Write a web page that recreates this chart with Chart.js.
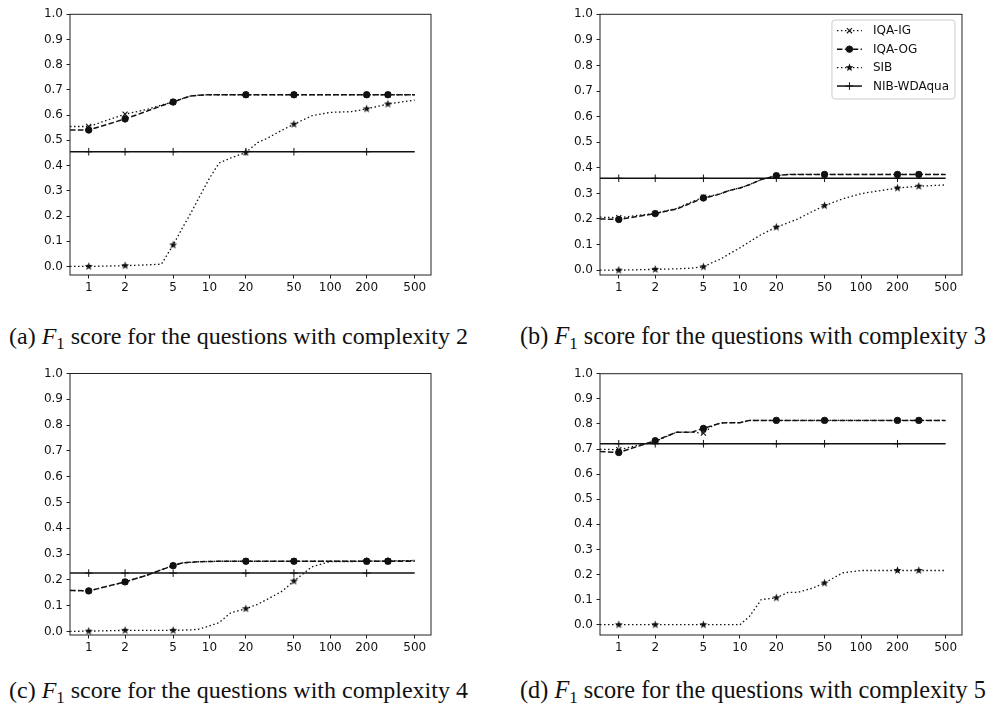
<!DOCTYPE html>
<html>
<head>
<meta charset="utf-8">
<script src="https://cdn.jsdelivr.net/npm/chart.js@4.4.1/dist/chart.umd.min.js"></script>
<style>
  html, body { margin: 0; padding: 0; background: #fff; }
  body { width: 1001px; height: 713px; position: relative; overflow: hidden; }
  .panel { position: absolute; width: 450px; height: 300px; }
  .caption {
    position: absolute; white-space: nowrap; line-height: 1;
    font-family: "Liberation Serif", "Times New Roman", serif; font-size: 24px; color: #111;
  }
  .caption.right { font-size: 24.3px; }
  .caption sub { font-size: 70%; vertical-align: -0.3em; line-height: 0; }
</style>
</head>
<body>
<div class="panel" style="left:0px;top:0px"><canvas id="c2" width="450" height="300"></canvas></div>
<div class="panel" style="left:530px;top:0px"><canvas id="c3" width="450" height="300"></canvas></div>
<div class="panel" style="left:0px;top:360px"><canvas id="c4" width="450" height="300"></canvas></div>
<div class="panel" style="left:530px;top:360px"><canvas id="c5" width="450" height="300"></canvas></div>

<div class="caption" style="left:9px;top:324px">(a) <i>F</i><sub>1</sub> score for the questions with complexity 2</div>
<div class="caption right" style="left:520px;top:324px">(b) <i>F</i><sub>1</sub> score for the questions with complexity 3</div>
<div class="caption" style="left:9px;top:678px">(c) <i>F</i><sub>1</sub> score for the questions with complexity 4</div>
<div class="caption right" style="left:520px;top:678px">(d) <i>F</i><sub>1</sub> score for the questions with complexity 5</div>

<script>
// Sampled numbers of answers (log axis); the first entry sits at the left edge of the axis
const xValues = [0.7, 1, 2, 3, 4, 5, 6, 7, 8, 10, 12, 15, 20, 25, 30, 40, 50, 70, 100, 150, 200, 300, 500];
// The NIB-WDAqua baseline is flat, so it only needs its marker positions and ends
const nibX = [0.7, 1, 2, 5, 20, 50, 200, 300, 500];
const markerX = [1, 2, 5, 20, 50, 200, 300];
const nibMarkerX = [1, 2, 5, 20, 50, 200];
const xTickValues = [1, 2, 5, 10, 20, 50, 100, 200, 500];
const yTickValues = [0, 0.1, 0.2, 0.3, 0.4, 0.5, 0.6, 0.7, 0.8, 0.9, 1.0];
const seriesNames = ['IQA-IG', 'IQA-OG', 'SIB', 'NIB-WDAqua'];

// Complexity 2
const igC2  = [0.555, 0.555, 0.604, 0.622, 0.640, 0.652, 0.666, 0.676, 0.679, 0.681, 0.681, 0.681, 0.681, 0.681, 0.681, 0.681, 0.681, 0.681, 0.681, 0.681, 0.681, 0.681, 0.681];
const ogC2  = [0.541, 0.541, 0.585, 0.615, 0.637, 0.652, 0.666, 0.676, 0.679, 0.681, 0.681, 0.681, 0.681, 0.681, 0.681, 0.681, 0.681, 0.681, 0.681, 0.681, 0.681, 0.681, 0.681];
const sibC2 = [0.000, 0.000, 0.003, 0.006, 0.009, 0.085, 0.155, 0.211, 0.264, 0.350, 0.410, 0.430, 0.452, 0.491, 0.508, 0.541, 0.564, 0.597, 0.611, 0.614, 0.625, 0.644, 0.660];
const nibC2 = [0.455, 0.455, 0.455, 0.455, 0.455, 0.455, 0.455, 0.455, 0.455];

// Complexity 3
const igC3  = [0.207, 0.205, 0.222, 0.241, 0.267, 0.285, 0.292, 0.300, 0.310, 0.321, 0.334, 0.354, 0.370, 0.374, 0.374, 0.374, 0.374, 0.374, 0.374, 0.374, 0.374, 0.374, 0.374];
const ogC3  = [0.200, 0.198, 0.221, 0.239, 0.263, 0.282, 0.290, 0.299, 0.310, 0.321, 0.334, 0.354, 0.369, 0.374, 0.374, 0.374, 0.374, 0.374, 0.374, 0.374, 0.374, 0.374, 0.374];
const sibC3 = [0.000, 0.000, 0.003, 0.005, 0.008, 0.013, 0.031, 0.044, 0.061, 0.087, 0.111, 0.139, 0.168, 0.185, 0.200, 0.230, 0.252, 0.278, 0.299, 0.312, 0.321, 0.328, 0.333];
const nibC3 = [0.359, 0.359, 0.359, 0.359, 0.359, 0.359, 0.359, 0.359, 0.359];

// Complexity 4
const igC4  = [0.159, 0.157, 0.192, 0.217, 0.239, 0.255, 0.266, 0.268, 0.270, 0.271, 0.272, 0.272, 0.272, 0.272, 0.272, 0.272, 0.272, 0.272, 0.272, 0.272, 0.272, 0.273, 0.275];
const ogC4  = [0.159, 0.157, 0.192, 0.217, 0.239, 0.255, 0.266, 0.268, 0.270, 0.271, 0.272, 0.272, 0.272, 0.272, 0.272, 0.272, 0.272, 0.272, 0.272, 0.272, 0.272, 0.272, 0.272];
const sibC4 = [0.000, 0.001, 0.004, 0.004, 0.004, 0.004, 0.005, 0.006, 0.008, 0.021, 0.034, 0.072, 0.088, 0.105, 0.124, 0.156, 0.195, 0.250, 0.271, 0.271, 0.272, 0.273, 0.275];
const nibC4 = [0.226, 0.226, 0.226, 0.226, 0.226, 0.226, 0.226, 0.226, 0.226];

// Complexity 5
const igC5  = [0.699, 0.697, 0.730, 0.767, 0.767, 0.763, 0.794, 0.804, 0.805, 0.805, 0.814, 0.814, 0.814, 0.814, 0.814, 0.814, 0.814, 0.814, 0.814, 0.814, 0.814, 0.814, 0.814];
const ogC5  = [0.690, 0.686, 0.733, 0.767, 0.767, 0.782, 0.794, 0.804, 0.805, 0.805, 0.814, 0.814, 0.814, 0.814, 0.814, 0.814, 0.814, 0.814, 0.814, 0.814, 0.814, 0.814, 0.814];
const sibC5 = [0.000, 0.000, 0.000, 0.000, 0.000, 0.000, 0.000, 0.000, 0.000, 0.000, 0.033, 0.100, 0.107, 0.129, 0.129, 0.146, 0.166, 0.206, 0.216, 0.216, 0.216, 0.216, 0.216];
const nibC5 = [0.721, 0.721, 0.721, 0.721, 0.721, 0.721, 0.721, 0.721, 0.721];

const INK = '#111';
const TICK_FONT = { family: 'DejaVu Sans', size: 12 };

// Filled five-pointed star used as the SIB marker
function starMarker(r) {
  const s = Math.ceil(r * 2 + 2);
  const c = document.createElement('canvas');
  c.width = s; c.height = s;
  const g = c.getContext('2d');
  g.translate(s / 2, s / 2);
  g.beginPath();
  for (let i = 0; i < 10; i++) {
    const rr = i % 2 ? r * 0.42 : r;
    const a = -Math.PI / 2 + i * Math.PI / 5;
    g.lineTo(rr * Math.cos(a), rr * Math.sin(a));
  }
  g.closePath();
  g.fillStyle = INK;
  g.fill();
  return c;
}
const STAR = starMarker(4.2);

function points(xs, ys) { return xs.map((x, i) => ({ x: x, y: ys[i] })); }
function radii(xs, marks, r) { return xs.map(x => marks.includes(x) ? r : 0); }

function buildDatasets(ig, og, sib, nib) {
  return [
    { label: seriesNames[0], data: points(xValues, ig), order: 3,
      borderColor: INK, borderWidth: 1.3, borderDash: [1.5, 2.5],
      pointStyle: 'crossRot', pointRadius: radii(xValues, markerX, 3.6), markerSize: 3.6,
      pointBorderColor: INK, pointBackgroundColor: INK, pointBorderWidth: 1.1 },
    { label: seriesNames[1], data: points(xValues, og), order: 2,
      borderColor: INK, borderWidth: 1.5, borderDash: [5.5, 2.4],
      pointStyle: 'circle', pointRadius: radii(xValues, markerX, 3.2), markerSize: 3.2,
      pointBorderColor: INK, pointBackgroundColor: INK, pointBorderWidth: 1 },
    { label: seriesNames[2], data: points(xValues, sib), order: 1,
      borderColor: INK, borderWidth: 1.3, borderDash: [1.5, 2.5],
      pointStyle: STAR, pointRadius: radii(xValues, markerX, 4), markerSize: 4,
      pointBorderColor: INK, pointBackgroundColor: INK, pointBorderWidth: 1 },
    { label: seriesNames[3], data: points(nibX, nib), order: 0,
      borderColor: INK, borderWidth: 1.5, borderDash: [],
      pointStyle: 'cross', pointRadius: radii(nibX, nibMarkerX, 3.8), markerSize: 3.8,
      pointBorderColor: INK, pointBackgroundColor: INK, pointBorderWidth: 1 }
  ];
}

// Full box around the plotting area
const framePlugin = {
  id: 'frame',
  afterDatasetsDraw(chart) {
    const { ctx, chartArea: a } = chart;
    ctx.save();
    ctx.strokeStyle = '#222';
    ctx.lineWidth = 1;
    ctx.setLineDash([]);
    ctx.strokeRect(a.left, a.top, a.right - a.left, a.bottom - a.top);
    ctx.restore();
  }
};

// Boxed legend in the upper right corner, drawn from the datasets themselves
const legendPlugin = {
  id: 'boxLegend',
  afterDraw(chart) {
    const { ctx, chartArea: a } = chart;
    const sets = chart.data.datasets;
    ctx.save();
    ctx.font = '12px "DejaVu Sans"';
    const textW = Math.max(...sets.map(d => ctx.measureText(d.label).width));
    const w = 41 + textW + 6;
    const h = 79;
    const right = a.right - 7;
    const left = right - w;
    const top = a.top + 5.7;
    ctx.beginPath();
    ctx.roundRect(left, top, w, h, 3);
    ctx.fillStyle = 'rgba(255,255,255,0.85)';
    ctx.fill();
    ctx.strokeStyle = '#cccccc';
    ctx.lineWidth = 1;
    ctx.stroke();
    sets.forEach((d, i) => {
      const y = top + 10.7 + i * 18.45;
      ctx.setLineDash(d.borderDash);
      ctx.lineWidth = d.borderWidth;
      ctx.strokeStyle = d.borderColor;
      ctx.beginPath();
      ctx.moveTo(left + 5, y);
      ctx.lineTo(left + 30, y);
      ctx.stroke();
      ctx.setLineDash([]);
      ctx.fillStyle = d.pointBackgroundColor;
      ctx.strokeStyle = d.pointBorderColor;
      ctx.lineWidth = d.pointBorderWidth;
      Chart.helpers.drawPoint(ctx, { pointStyle: d.pointStyle, radius: d.markerSize, rotation: 0, borderWidth: d.pointBorderWidth }, left + 17.5, y);
      ctx.fillStyle = INK;
      ctx.textBaseline = 'middle';
      ctx.textAlign = 'left';
      ctx.fillText(d.label, left + 41, y + 0.5);
    });
    ctx.restore();
  }
};

function makeChart(id, datasets, yMin, pad, withLegend) {
  const plugins = [framePlugin];
  if (withLegend) plugins.push(legendPlugin);
  return new Chart(document.getElementById(id), {
    type: 'line',
    data: { datasets: datasets },
    plugins: plugins,
    options: {
      responsive: false,
      animation: false,
      devicePixelRatio: 1,
      events: [],
      layout: { padding: pad },
      elements: { line: { tension: 0, borderCapStyle: 'butt' } },
      plugins: { legend: { display: false }, tooltip: { enabled: false } },
      scales: {
        x: {
          type: 'logarithmic',
          min: 0.733, max: 682,
          afterBuildTicks(scale) { scale.ticks = xTickValues.map(v => ({ value: v })); },
          afterFit(scale) { scale.height = 25; },
          border: { display: false },
          grid: { display: true, drawOnChartArea: false, drawTicks: true, tickLength: 3.5, color: '#222', lineWidth: 1 },
          ticks: { autoSkip: false, maxRotation: 0, padding: 2, color: INK, font: TICK_FONT,
                   callback: v => String(v) }
        },
        y: {
          type: 'linear',
          min: yMin, max: 1.0,
          afterBuildTicks(scale) { scale.ticks = yTickValues.map(v => ({ value: v })); },
          afterFit(scale) { scale.width = 70; },
          border: { display: false },
          grid: { display: true, drawOnChartArea: false, drawTicks: true, tickLength: 3.5, color: '#222', lineWidth: 1 },
          ticks: { padding: 3.5, color: INK, font: TICK_FONT, callback: v => v.toFixed(1) }
        }
      }
    }
  });
}

makeChart('c2', buildDatasets(igC2, ogC2, sibC2, nibC2), -0.034, { left: 0, top: 14.3, right: 19, bottom: 0 }, false);
makeChart('c3', buildDatasets(igC3, ogC3, sibC3, nibC3), -0.019, { left: 0, top: 14.3, right: 18, bottom: 0 }, true);
makeChart('c4', buildDatasets(igC4, ogC4, sibC4, nibC4), -0.014, { left: 0, top: 13.5, right: 19, bottom: 0 }, false);
makeChart('c5', buildDatasets(igC5, ogC5, sibC5, nibC5), -0.041, { left: 0, top: 13.7, right: 18, bottom: 0 }, false);
</script>
</body>
</html>
